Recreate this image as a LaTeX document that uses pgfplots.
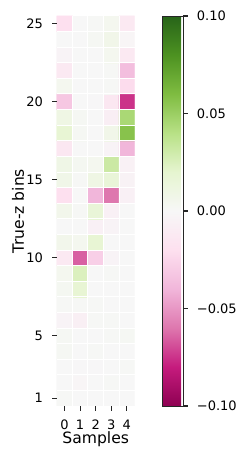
\documentclass[border=0pt]{standalone}
\usepackage{fontspec}
\setmainfont{DejaVu Sans}
\usepackage{pgfplots}
\pgfplotsset{compat=1.18}
\usepackage{pgfplotstable}
\definecolor{tickgray}{RGB}{38,38,38}
\pgfplotstableread{
x y c
0 1 0.001
1 1 0.000
2 1 0.000
3 1 0.000
4 1 0.000
0 2 0.000
1 2 -0.002
2 2 0.000
3 2 0.001
4 2 0.000
0 3 0.000
1 3 -0.001
2 3 -0.001
3 3 0.000
4 3 0.001
0 4 0.002
1 4 0.000
2 4 0.001
3 4 0.000
4 4 0.000
0 5 0.002
1 5 0.000
2 5 0.000
3 5 0.001
4 5 0.002
0 6 -0.003
1 6 -0.007
2 6 0.001
3 6 0.001
4 6 0.000
0 7 0.001
1 7 0.001
2 7 0.001
3 7 0.000
4 7 0.000
0 8 0.003
1 8 0.018
2 8 0.000
3 8 0.000
4 8 0.000
0 9 0.004
1 9 0.025
2 9 0.000
3 9 0.001
4 9 0.000
0 10 -0.012
1 10 -0.065
2 10 -0.028
3 10 -0.003
4 10 0.000
0 11 0.006
1 11 0.004
2 11 0.018
3 11 0.000
4 11 0.000
0 12 0.000
1 12 0.000
2 12 -0.006
3 12 -0.003
4 12 0.000
0 13 0.006
1 13 0.001
2 13 0.016
3 13 -0.006
4 13 0.000
0 14 -0.020
1 14 0.000
2 14 -0.040
3 14 -0.060
4 14 -0.006
0 15 0.008
1 15 0.001
2 15 0.010
3 15 0.016
4 15 -0.004
0 16 0.009
1 16 0.003
2 16 0.004
3 16 0.032
4 16 -0.005
0 17 -0.014
1 17 0.000
2 17 0.000
3 17 -0.003
4 17 -0.040
0 18 0.018
1 18 0.002
2 18 0.000
3 18 0.007
4 18 0.057
0 19 0.010
1 19 0.002
2 19 0.000
3 19 -0.008
4 19 0.045
0 20 -0.032
1 20 0.000
2 20 -0.001
3 20 -0.014
4 20 -0.075
0 21 0.004
1 21 0.000
2 21 0.000
3 21 0.001
4 21 -0.022
0 22 -0.012
1 22 0.000
2 22 0.000
3 22 0.001
4 22 -0.036
0 23 -0.003
1 23 0.000
2 23 0.000
3 23 0.004
4 23 -0.012
0 24 0.000
1 24 0.000
2 24 0.002
3 24 0.007
4 24 -0.002
0 25 -0.020
1 25 0.000
2 25 0.001
3 25 0.004
4 25 -0.012
}\heat
\begin{document}
\begin{tikzpicture}
\begin{axis}[
  scale only axis,
  width=60pt, height=300pt,
  at={(0,0)}, anchor=south west,
  xmin=-0.5, xmax=4.5, ymin=0.5, ymax=25.5,
  /pgf/number format/assume math mode=true,
  colormap={piyg}{rgb255=(142,1,82) rgb255=(197,27,125) rgb255=(222,119,174) rgb255=(241,182,218) rgb255=(253,224,239) rgb255=(247,247,247) rgb255=(230,245,208) rgb255=(184,225,134) rgb255=(127,188,65) rgb255=(77,146,33) rgb255=(39,100,25)},
  point meta min=-0.1, point meta max=0.1,
  axis line style={draw=none},
  xtick={0,1,2,3,4},
  ytick={1,5,10,15,20,25},
  xticklabels={0,1,2,3,4},
  yticklabels={1,5,10,15,20,25},
  xtick pos=bottom, ytick pos=left,
  tick align=outside,
  major tick length=3.5pt,
  tick style={tickgray, line width=0.8pt},
  minor xtick={0.5,1.5,2.5,3.5},
  minor ytick={1.5,2.5,...,24.5},
  minor tick length=0pt,
  xminorgrids, yminorgrids,
  minor grid style={white, line width=0.75pt},
  axis on top,
  ticklabel style={font=\fontsize{10}{12}\selectfont, text=black},
  xticklabel style={yshift=-3.5pt},
  yticklabel style={xshift=-3.5pt},
  every axis x label/.style={at={(axis description cs:0.5,0)}, anchor=center, yshift=-25.4pt, font=\fontsize{12}{14}\selectfont},
  every axis y label/.style={at={(axis description cs:0,0.5)}, xshift=-29.8pt, rotate=90, anchor=center, font=\fontsize{12}{14}\selectfont},
  xlabel={Samples},
  ylabel={True-z bins},
  colorbar,
  colorbar style={
    at={(parent axis.north east)}, anchor=north west, xshift=13pt,
    width=15.8pt,
    /pgf/number format/assume math mode=true,
    ytick={-0.1,-0.05,0,0.05,0.1},
    yticklabels={−0.10,−0.05,0.00,0.05,0.10},
    ytick pos=right,
    yticklabel pos=right,
    tick align=outside,
    major tick length=3.5pt,
    tick style={tickgray, line width=0.8pt},
    yticklabel style={font=\fontsize{10}{12}\selectfont, xshift=3.5pt},
    axis line style={draw=tickgray, line width=0.6pt},
  },
]
\addplot[matrix plot*, mesh/cols=5, point meta=explicit] table[x=x, y=y, meta=c] {\heat};
\end{axis}
\pgfresetboundingbox
\path[use as bounding box] (-43.6pt,-40pt) rectangle (144.8pt,312.3pt);
\end{tikzpicture}
\end{document}
